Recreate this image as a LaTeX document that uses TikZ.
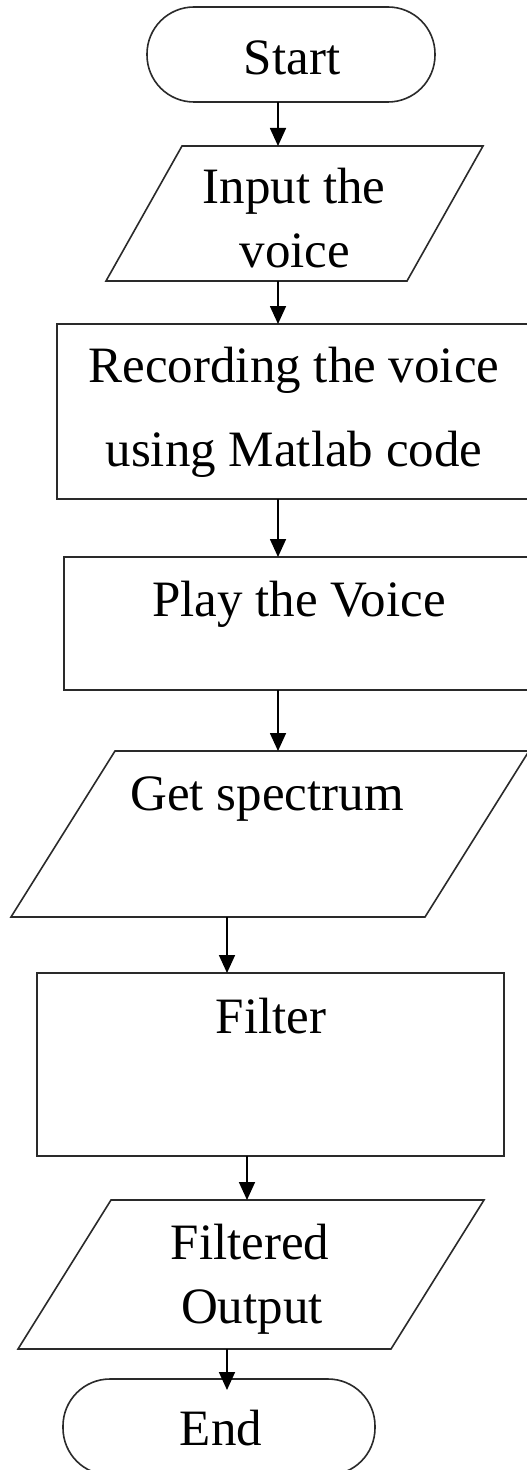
\documentclass[tikz,border=0pt]{standalone}
\usepackage{fontspec}
\setmainfont{Liberation Serif}
\usetikzlibrary{arrows.meta}
\definecolor{edge}{HTML}{2A2A2A}
\tikzset{
  box/.style={draw=edge, line width=1.6bp, outer sep=0pt, inner sep=0pt},
  stadium/.style={box, rounded corners=47bp},
  frame/.style={draw=none, outer sep=0pt, inner sep=0pt},
  para/.style={draw=edge, line width=1.6bp, line join=miter},
  txt/.style={anchor=base, inner sep=0pt, font=\fontsize{51.2}{60}\selectfont},
  arr/.style={draw=black, line width=1.7bp, -{Triangle[length=18bp,width=16bp]}}
}
\begin{document}
\begin{tikzpicture}[x=1bp, y=-1bp]
\clip (0,0) rectangle (527,1470);
\fill[white] (0,0) rectangle (527,1470);

% terminal: Start
\node[stadium, minimum width=288bp, minimum height=95bp] (start) at (291,54.5) {};
\node[txt] (tstart) at (292,75) {Start};

% input parallelogram
\node[frame, minimum width=377bp, minimum height=135bp] (in1) at (294.5,213.5) {};
\draw[para] ([xshift=76bp]in1.north west) -- (in1.north east) -- ([xshift=-76bp]in1.south east) -- (in1.south west) -- cycle;
\node[txt] (tin1a) at (294,204) {Input the};
\node[txt] (tin1b) at (295,267) {voice};

% recording process
\node[box, minimum width=478bp, minimum height=175bp] (rec) at (296,411.5) {};
\node[txt] (treca) at (294,382) {Recording the voice};
\node[txt] (trecb) at (294,466) {using Matlab code};

% playback process
\node[box, minimum width=471bp, minimum height=133bp] (play) at (299.5,623.5) {};
\node[txt] (tplay) at (299,616) {Play the Voice};

% spectrum parallelogram
\node[frame, minimum width=518bp, minimum height=166bp] (spec) at (270,834) {};
\draw[para] ([xshift=104bp]spec.north west) -- (spec.north east) -- ([xshift=-104bp]spec.south east) -- (spec.south west) -- cycle;
\node[txt] (tspec) at (267,810) {Get spectrum};

% filter process
\node[box, minimum width=467bp, minimum height=183bp] (filter) at (270.5,1064.5) {};
\node[txt] (tfilter) at (271,1033) {Filter};

% output parallelogram
\node[frame, minimum width=466bp, minimum height=149bp] (fout) at (251,1274.5) {};
\draw[para] ([xshift=93bp]fout.north west) -- (fout.north east) -- ([xshift=-93bp]fout.south east) -- (fout.south west) -- cycle;
\node[txt] (tfouta) at (250,1259) {Filtered};
\node[txt] (tfoutb) at (252,1323) {Output};

% terminal: End
\node[stadium, minimum width=312bp, minimum height=96bp] (end) at (219,1427) {};
\node[txt] (tend) at (221,1445) {End};

% vertical guides for the connectors
\coordinate (xa) at (278,0);
\coordinate (xb) at (227,0);
\coordinate (xc) at (247,0);

\draw[arr] (start.south -| xa) -- (in1.north -| xa);
\draw[arr] (in1.south -| xa) -- (rec.north -| xa);
\draw[arr] (rec.south -| xa) -- (play.north -| xa);
\draw[arr] (play.south -| xa) -- (spec.north -| xa);
\draw[arr] (spec.south -| xb) -- (filter.north -| xb);
\draw[arr] (filter.south -| xc) -- (fout.north -| xc);
\draw[arr, shorten >=-11bp] (fout.south -| xb) -- (end.north -| xb);
\end{tikzpicture}
\end{document}
